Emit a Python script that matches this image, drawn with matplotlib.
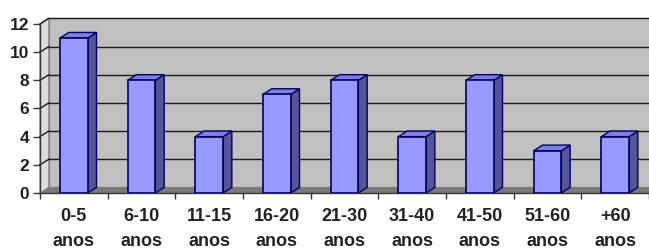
import matplotlib
matplotlib.use("Agg")
import matplotlib.pyplot as plt
from matplotlib.patches import Polygon, Rectangle

# data
categories = ["0-5\nanos", "6-10\nanos", "11-15\nanos", "16-20\nanos", "21-30\nanos",
              "31-40\nanos", "41-50\nanos", "51-60\nanos", "+60\nanos"]
values = [11, 8, 4, 7, 8, 4, 8, 3, 4]
yticks = [0, 2, 4, 6, 8, 10, 12]

plt.rcParams['font.family'] = ['Liberation Sans', 'DejaVu Sans']

fig = plt.figure(figsize=(6.49, 2.49), dpi=100)
ax = fig.add_axes([40 / 649, 56 / 249, 609 / 649, 169 / 249])

n = len(values)
x0, x1 = -0.5, n - 0.5
ymax = 12
dx, dy = 0.13, 0.4     # 3d depth offset
bw = 0.41              # bar front width

# back wall, side wall and floor
ax.add_patch(Polygon([(x0 + dx, dy), (x1 + 0.3, dy), (x1 + 0.3, ymax + dy), (x0 + dx, ymax + dy)],
                     closed=True, facecolor="#c0c0c0", edgecolor="#808080", lw=0.8,
                     clip_on=False, zorder=0))
ax.add_patch(Polygon([(x0, 0), (x0 + dx, dy), (x0 + dx, ymax + dy), (x0, ymax)],
                     closed=True, facecolor="#dcdcdc", edgecolor="#808080", lw=0.8,
                     clip_on=False, zorder=0))
ax.add_patch(Polygon([(x0, 0), (x1 + 0.3, 0), (x1 + 0.3, dy), (x0 + dx, dy)],
                     closed=True, facecolor="#7a7a7a", edgecolor="none",
                     clip_on=False, zorder=0.5))

# grid lines on walls
for t in yticks[1:]:
    ax.plot([x0 + dx, x1 + 0.3], [t + dy, t + dy], color="#1a1a1a", lw=1.0, zorder=0.6, clip_on=False)
    ax.plot([x0, x0 + dx], [t, t + dy], color="#1a1a1a", lw=1.0, zorder=0.6, clip_on=False)

# 3d bars
edge = "#000060"
for i, v in enumerate(values):
    left = i - bw / 2
    right = i + bw / 2
    ax.add_patch(Polygon([(right, 0), (right + dx, dy), (right + dx, v + dy), (right, v)],
                         closed=True, facecolor="#55559a", edgecolor=edge, lw=1.0, zorder=2))
    ax.add_patch(Polygon([(left, v), (left + dx, v + dy), (right + dx, v + dy), (right, v)],
                         closed=True, facecolor="#7f7fdd", edgecolor=edge, lw=1.0, zorder=2))
    ax.add_patch(Rectangle((left, 0), bw, v, facecolor="#9999ff", edgecolor=edge, lw=1.2, zorder=3))

ax.set_xlim(x0, x1)
ax.set_ylim(0, ymax)
ax.set_facecolor("none")
for s in ["top", "right"]:
    ax.spines[s].set_visible(False)
ax.spines["left"].set_color("#333333")
ax.spines["bottom"].set_color("#333333")
ax.spines["left"].set_linewidth(1.0)
ax.spines["bottom"].set_linewidth(1.0)

ax.set_yticks(yticks)
ax.set_yticklabels([str(t) for t in yticks], fontsize=12.5, fontweight="bold", color="#222222")
ax.tick_params(axis="y", length=5, width=1, color="#333333", pad=3)

# category boundary ticks, labels in the middle
ax.set_xticks([i - 0.5 for i in range(n + 1)])
ax.set_xticklabels([])
ax.tick_params(axis="x", which="major", length=4, width=1, color="#333333")
ax.set_xticks(range(n), minor=True)
ax.set_xticklabels(categories, minor=True, fontsize=13, fontweight="bold", color="#222222")
ax.tick_params(axis="x", which="minor", length=0, pad=11)
for lab in ax.get_xticklabels(minor=True):
    lab.set_linespacing(1.6)

fig.savefig("out.png", dpi=100)
